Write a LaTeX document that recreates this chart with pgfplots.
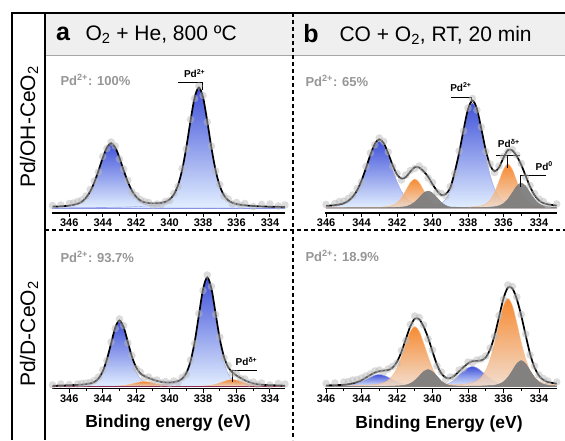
\documentclass[border=0pt]{standalone}
\usepackage{pgfplots}
\pgfplotsset{compat=1.18}
\usepackage{pgfplotstable}
\usepackage{fontspec}
\setmainfont{Liberation Sans}

\definecolor{blueT}{RGB}{38,58,212}
\definecolor{blueB}{RGB}{222,236,255}
\definecolor{orT}{RGB}{244,118,14}
\definecolor{orB}{RGB}{240,216,198}
\definecolor{grayP}{RGB}{125,125,125}
\definecolor{ptgray}{RGB}{185,185,185}
\definecolor{txtgray}{RGB}{150,150,150}
\definecolor{hdr}{RGB}{239,239,239}
\definecolor{maroon}{RGB}{140,45,85}

% Pd 3d, Pd/OH-CeO2, O2 + He 800 C (heights above baseline)
\pgfplotstableread{
x b1 b2 env dat
333.1 0.1 0.8 0.9 3.0
333.5 0.2 1.0 1.2 2.0
334.0 0.2 1.1 1.3 4.0
334.5 0.2 1.4 1.6 3.5
335.0 0.2 1.8 2.0 1.5
335.5 0.2 2.5 2.7 4.5
335.75 0.2 3.0 3.2 2.5
336.0 0.3 3.7 4.0 5.5
336.25 0.3 5.0 5.3 4.0
336.5 0.3 7.5 7.8 9.0
336.75 0.3 12.5 12.8 12.0
337.0 0.3 21.8 22.1 23.5
337.25 0.4 37.4 37.8 37.0
337.5 0.4 60.0 60.4 62.0
337.75 0.4 86.6 87.0 86.0
338.0 0.5 110.2 110.7 112.5
338.25 0.5 120.0 120.5 122.0
338.5 0.5 110.2 110.7 109.5
338.75 0.6 86.6 87.2 88.5
339.0 0.7 60.0 60.7 59.0
339.25 0.8 37.4 38.2 39.5
339.5 0.8 21.8 22.6 21.5
339.75 0.9 12.5 13.4 14.5
340.0 1.1 7.5 8.6 7.5
340.25 1.2 5.0 6.2 6.5
340.5 1.4 3.7 5.1 3.5
340.75 1.7 3.0 4.7 4.0
341.0 2.1 2.5 4.6 2.5
341.25 2.8 2.1 4.9 5.5
341.5 3.9 1.8 5.7 6.5
341.75 6.0 1.6 7.6 8.5
342.0 9.9 1.4 11.3 12.5
342.25 16.1 1.2 17.3 16.0
342.5 25.2 1.1 26.3 27.5
342.75 36.9 1.0 37.9 39.0
343.0 49.5 0.9 50.4 49.0
343.25 59.8 0.8 60.6 62.0
343.5 64.0 0.8 64.8 66.0
343.75 59.8 0.7 60.5 59.5
344.0 49.5 0.6 50.1 51.5
344.25 36.9 0.6 37.5 36.0
344.5 25.2 0.5 25.7 27.0
344.75 16.1 0.5 16.6 18.5
345.0 9.9 0.4 10.3 12.0
345.25 6.0 0.4 6.4 8.0
345.5 3.9 0.4 4.3 6.5
345.75 2.8 0.4 3.2 5.0
346.0 2.1 0.3 2.4 4.5
346.5 1.4 0.3 1.7 3.0
347.0 1.1 0.3 1.4 2.5
}\tabAT

% Pd/OH-CeO2, CO + O2 RT
\pgfplotstableread{
x b1 b2 o1 o2 g1 g2 env dat
333.0 0.2 0.8 0.6 0.1 0.6 0.1 2.4 4.0
333.5 0.2 1.0 0.9 0.1 1.3 0.1 3.6 2.5
333.75 0.2 1.1 1.1 0.1 2.3 0.1 4.9 6.5
334.0 0.2 1.2 1.5 0.1 4.5 0.1 7.6 9.0
334.25 0.2 1.4 2.2 0.1 8.9 0.1 12.9 14.5
334.5 0.2 1.6 4.0 0.1 15.3 0.1 21.3 22.5
334.75 0.2 1.9 8.0 0.1 21.9 0.1 32.2 31.0
335.0 0.2 2.2 15.6 0.1 25.0 0.1 43.2 44.5
335.25 0.3 2.6 26.8 0.1 21.9 0.1 51.8 53.0
335.5 0.3 3.3 38.5 0.1 15.3 0.1 57.6 58.5
335.75 0.3 4.4 44.0 0.2 8.9 0.1 57.9 56.5
336.0 0.3 6.6 38.5 0.2 4.5 0.1 50.2 51.5
336.25 0.3 10.9 26.8 0.2 2.3 0.1 40.6 42.0
336.5 0.4 19.1 15.6 0.2 1.3 0.1 36.7 35.5
336.75 0.4 32.8 8.0 0.2 0.9 0.2 42.5 44.0
337.0 0.4 52.5 4.0 0.2 0.6 0.2 57.9 56.5
337.25 0.4 75.8 2.2 0.2 0.5 0.2 79.3 81.0
337.5 0.5 96.4 1.5 0.3 0.4 0.2 99.3 98.0
337.75 0.5 105.0 1.1 0.3 0.3 0.3 107.5 109.5
338.0 0.6 96.4 0.9 0.3 0.3 0.3 98.8 100.0
338.25 0.6 75.8 0.7 0.4 0.3 0.4 78.2 77.0
338.5 0.7 52.5 0.6 0.5 0.2 0.6 55.1 57.0
338.75 0.8 32.8 0.5 0.6 0.2 0.9 35.8 34.5
339.0 0.9 17.0 0.5 0.6 0.2 1.0 20.2 21.5
339.25 1.0 9.0 0.4 0.9 0.2 2.5 14.0 12.0
339.5 1.1 4.5 0.3 1.4 0.2 5.5 13.0 14.5
339.75 1.3 2.8 0.3 2.4 0.1 10.4 17.3 16.0
340.0 1.5 2.0 0.3 5.0 0.1 14.9 23.8 25.5
340.25 1.8 1.8 0.3 10.3 0.1 17.0 31.3 30.0
340.5 2.2 1.6 0.2 17.7 0.1 14.9 36.7 38.5
340.75 2.9 1.5 0.2 25.4 0.1 10.4 40.5 42.0
341.0 4.1 1.4 0.2 29.0 0.1 6.0 40.8 39.5
341.25 6.3 1.3 0.2 25.4 0.1 3.1 36.4 37.5
341.5 10.3 1.2 0.2 17.7 0.1 1.5 31.0 33.0
341.75 16.8 1.1 0.2 10.3 0.1 0.9 29.4 28.0
342.0 26.4 1.0 0.2 5.2 0.1 0.6 33.5 34.5
342.25 38.7 0.9 0.2 2.6 0.1 0.4 42.9 41.5
342.5 51.9 0.8 0.1 1.5 0.1 0.3 54.7 56.0
342.75 62.6 0.7 0.1 1.0 0.1 0.3 64.8 66.5
343.0 67.0 0.6 0.1 0.7 0.1 0.2 68.7 70.0
343.25 62.6 0.6 0.1 0.6 0.1 0.2 64.2 63.0
343.5 51.9 0.5 0.1 0.5 0.1 0.2 53.3 55.0
343.75 38.7 0.5 0.1 0.4 0.1 0.2 40.0 41.5
344.0 26.4 0.5 0.1 0.3 0.1 0.1 27.5 26.0
344.25 16.8 0.4 0.1 0.3 0.1 0.1 17.8 19.5
344.5 10.3 0.4 0.1 0.3 0.1 0.1 11.3 13.0
344.75 6.3 0.4 0.1 0.2 0.1 0.1 7.2 9.5
345.0 4.1 0.3 0.1 0.2 0.0 0.1 4.8 7.0
345.25 2.9 0.3 0.1 0.2 0.0 0.1 3.6 6.5
345.5 2.2 0.3 0.1 0.2 0.0 0.1 2.9 4.5
346.0 1.5 0.3 0.1 0.1 0.0 0.1 2.1 3.5
}\tabBT

% Pd/D-CeO2, O2 + He 800 C
\pgfplotstableread{
x b1 b2 o1 o2 env dat
333.1 0.1 0.6 0.1 0.0 0.8 2.5
333.5 0.1 0.8 0.2 0.0 1.1 3.0
334.0 0.1 1.0 0.2 0.0 1.3 1.5
334.5 0.1 1.2 0.5 0.0 1.8 3.5
334.75 0.1 1.5 0.7 0.0 2.3 2.0
335.0 0.1 1.7 1.3 0.0 3.1 4.5
335.25 0.1 2.1 2.2 0.0 4.4 3.5
335.5 0.2 2.5 3.5 0.0 6.2 7.5
335.75 0.2 3.2 5.1 0.0 8.5 8.0
336.0 0.2 4.4 6.4 0.0 11.0 12.5
336.25 0.2 7.0 7.0 0.1 14.3 13.5
336.5 0.2 12.7 6.4 0.1 19.4 21.0
336.75 0.2 24.3 5.1 0.1 29.7 28.5
337.0 0.2 44.0 3.5 0.1 47.8 49.5
337.25 0.3 70.5 2.2 0.1 73.1 72.0
337.5 0.3 96.4 1.3 0.1 98.1 100.0
337.75 0.3 108.0 0.7 0.1 109.1 111.5
338.0 0.3 96.4 0.5 0.1 97.3 96.0
338.25 0.4 70.5 0.3 0.1 71.3 73.0
338.5 0.4 44.0 0.2 0.1 44.7 43.0
338.75 0.5 24.3 0.2 0.1 25.1 26.5
339.0 0.5 12.7 0.2 0.1 13.5 12.0
339.25 0.6 7.0 0.1 0.2 7.9 9.0
339.5 0.7 4.4 0.1 0.2 5.4 4.0
339.75 0.8 3.2 0.1 0.3 4.4 5.5
340.0 0.9 2.5 0.1 0.5 4.0 3.0
340.25 1.0 2.1 0.1 0.9 4.1 5.0
340.5 1.2 1.7 0.1 1.6 4.6 3.5
340.75 1.5 1.5 0.1 2.5 5.6 6.5
341.0 2.0 1.2 0.1 3.6 6.9 6.0
341.25 2.7 1.1 0.1 4.6 8.5 9.5
341.5 4.2 1.0 0.1 5.0 10.3 9.0
341.75 7.7 0.8 0.1 4.6 13.2 14.5
342.0 14.6 0.8 0.1 3.6 19.1 18.0
342.25 26.5 0.7 0.1 2.5 29.8 31.0
342.5 42.4 0.6 0.1 1.6 44.7 43.5
342.75 58.0 0.5 0.1 0.9 59.5 61.0
343.0 65.0 0.5 0.1 0.5 66.1 67.5
343.25 58.0 0.5 0.1 0.3 58.9 58.0
343.5 42.4 0.4 0.0 0.2 43.0 44.5
343.75 26.5 0.4 0.0 0.2 27.1 26.0
344.0 14.6 0.4 0.0 0.1 15.1 16.5
344.25 7.7 0.3 0.0 0.1 8.1 9.5
344.5 4.2 0.3 0.0 0.1 4.6 6.0
344.75 2.7 0.3 0.0 0.1 3.1 4.0
345.0 2.0 0.3 0.0 0.1 2.4 3.5
345.25 1.5 0.3 0.0 0.1 1.9 3.0
345.5 1.2 0.3 0.0 0.1 1.6 2.5
346.0 0.9 0.3 0.0 0.1 1.3 2.0
346.5 0.7 0.2 0.0 0.1 1.0 2.5
347.0 0.5 0.2 0.0 0.1 0.8 1.5
}\tabAB

% Pd/D-CeO2, CO + O2 RT
\pgfplotstableread{
x b1 b2 o1 o2 g1 g2 env dat
333.0 0.0 0.2 1.8 0.2 0.7 0.0 2.9 4.5
333.5 0.0 0.2 2.7 0.2 1.3 0.1 4.5 5.5
333.75 0.0 0.3 3.7 0.2 2.4 0.1 6.7 8.0
334.0 0.0 0.3 5.5 0.2 4.7 0.1 10.8 11.5
334.25 0.0 0.3 9.2 0.2 9.2 0.1 19.0 20.5
334.5 0.0 0.4 16.0 0.2 15.9 0.1 32.6 31.5
334.75 0.1 0.5 27.5 0.3 22.8 0.1 51.3 52.5
335.0 0.1 0.5 44.0 0.3 26.0 0.1 71.0 72.0
335.25 0.1 0.7 63.5 0.3 22.8 0.1 87.5 89.5
335.5 0.1 0.9 80.8 0.3 15.9 0.1 98.1 100.0
335.75 0.1 1.2 88.0 0.4 9.2 0.1 99.0 101.5
336.0 0.1 1.9 80.8 0.4 4.7 0.1 88.0 87.0
336.25 0.1 3.1 63.5 0.4 2.4 0.1 69.6 71.0
336.5 0.1 5.0 44.0 0.5 1.3 0.1 51.0 50.0
336.75 0.1 7.9 27.5 0.6 0.9 0.2 37.2 38.5
337.0 0.1 11.5 16.0 0.6 0.7 0.2 29.1 30.5
337.25 0.1 15.5 9.2 0.7 0.5 0.2 26.2 27.5
337.5 0.1 18.7 5.5 0.8 0.4 0.2 25.7 26.5
337.75 0.1 20.0 3.7 0.9 0.4 0.2 25.3 24.0
338.0 0.1 18.7 2.7 1.0 0.3 0.3 23.1 24.5
338.25 0.1 15.5 2.2 1.0 0.3 0.3 19.4 18.0
338.5 0.1 11.5 1.8 1.2 0.2 0.4 15.2 16.5
338.75 0.1 7.0 1.5 1.5 0.2 0.6 10.9 9.5
339.0 0.2 3.8 1.3 1.9 0.2 1.0 8.4 9.5
339.25 0.2 2.0 1.1 2.8 0.2 2.5 8.8 7.0
339.5 0.2 1.2 1.0 5.0 0.1 5.5 13.0 14.5
339.75 0.2 0.8 0.9 9.5 0.1 10.4 21.9 20.5
340.0 0.3 0.7 0.9 18.0 0.1 14.9 34.9 36.5
340.25 0.3 0.6 0.8 30.0 0.1 17.0 48.8 47.5
340.5 0.4 0.5 0.7 43.3 0.1 14.9 59.9 61.5
340.75 0.5 0.5 0.7 55.1 0.1 10.4 67.3 69.0
341.0 0.7 0.4 0.6 60.0 0.1 6.0 67.8 70.5
341.25 1.1 0.3 0.5 55.1 0.1 3.1 60.2 62.0
341.5 1.9 0.3 0.5 43.3 0.1 1.5 47.6 46.0
341.75 3.0 0.3 0.4 30.0 0.1 0.9 34.7 36.0
342.0 4.7 0.2 0.4 18.7 0.1 0.6 24.7 23.5
342.25 6.9 0.2 0.4 10.9 0.1 0.4 18.9 20.0
342.5 9.3 0.2 0.4 6.2 0.1 0.3 16.5 17.5
342.75 11.2 0.2 0.3 3.8 0.1 0.3 15.9 14.5
343.0 12.0 0.2 0.3 2.5 0.1 0.2 15.3 16.5
343.25 11.2 0.2 0.3 1.9 0.1 0.2 13.9 15.5
343.5 9.3 0.2 0.3 1.5 0.1 0.2 11.6 12.5
343.75 6.9 0.1 0.3 1.3 0.1 0.2 8.9 10.5
344.0 4.7 0.1 0.2 1.1 0.1 0.1 6.3 8.5
344.25 3.0 0.1 0.2 0.9 0.1 0.1 4.4 7.0
344.5 1.9 0.1 0.2 0.8 0.1 0.1 3.2 6.5
344.75 1.1 0.1 0.2 0.7 0.1 0.1 2.3 5.0
345.0 0.7 0.1 0.2 0.6 0.1 0.1 1.8 4.5
345.5 0.4 0.1 0.2 0.5 0.0 0.1 1.3 3.5
346.0 0.3 0.1 0.2 0.4 0.0 0.1 1.1 3.0
}\tabBB

\pgfplotsset{
  xps/.style={
    scale only axis, clip=false, anchor=south west,
    x dir=reverse,
    axis x line*=bottom, hide y axis,
    xtick={334,336,...,346}, minor x tick num=1,
    xtick pos=left,
    tick align=outside,
    major tick length=4pt, minor tick length=2.5pt,
    axis line style={line width=1.3pt},
    every tick/.style={black, line width=0.9pt},
    /pgf/number format/assume math mode=true,
    xticklabel style={font=\fontsize{11}{12}\selectfont\bfseries, inner sep=2pt},
  },
  pts/.style={only marks, mark=*, mark size=3.8pt, color=ptgray,
    mark options={solid, draw=ptgray, draw opacity=0, fill=ptgray, fill opacity=0.5}},
  cblue/.style={smooth, draw=blueT!45, line width=0.4pt,
    top color=blueT, bottom color=blueB, fill opacity=0.88},
  corange/.style={smooth, draw=orT!50, line width=0.4pt,
    top color=orT, bottom color=orB, fill opacity=0.85},
  cgray/.style={smooth, draw=grayP, line width=0.4pt, fill=grayP, fill opacity=0.95},
  envl/.style={smooth, black, line width=1.7pt},
}
\newcommand{\pdlab}[1]{\fontsize{10}{12}\selectfont\bfseries Pd\textsuperscript{#1}}
\newcommand{\pct}[1]{\fontsize{13}{15}\selectfont\bfseries\color{txtgray}Pd\textsuperscript{2+}: #1\%}

\begin{document}
\begin{tikzpicture}[x=1pt,y=1pt]
\useasboundingbox (0,0) rectangle (565,440);

% header band and frame
\fill[hdr] (45,427) rectangle (565,385);
\draw[gray!70, line width=0.6pt] (45,385) -- (565,385);
\draw[black, line width=2pt] (12,427) -- (565,427);
\draw[black, line width=2pt] (12,428) -- (12,0);
\draw[black, line width=2pt] (45,427) -- (45,0);
\draw[black, line width=1.2pt, dash pattern=on 4pt off 3pt] (293,427) -- (293,0);
\draw[black, line width=1.2pt, dash pattern=on 4pt off 3pt] (45,210) -- (565,210);

\node[anchor=center, font=\fontsize{25}{28}\selectfont\bfseries] at (63,406) {a};
\node[anchor=west, font=\fontsize{21}{24}\selectfont] at (82,405) {O\textsubscript{2} + He, 800 ºC};
\node[anchor=center, font=\fontsize{25}{28}\selectfont\bfseries] at (311,406) {b};
\node[anchor=west, font=\fontsize{21}{24}\selectfont] at (336,405) {CO + O\textsubscript{2}, RT, 20 min};

\node[rotate=90, font=\fontsize{21}{24}\selectfont] at (29,313) {Pd/OH-CeO\textsubscript{2}};
\node[rotate=90, font=\fontsize{21}{24}\selectfont] at (29,106) {Pd/D-CeO\textsubscript{2}};

\node[anchor=west] at (57,360) {\pct{100}};
\node[anchor=west] at (302,359) {\pct{65}};
\node[anchor=west] at (57,183) {\pct{93.7}};
\node[anchor=west] at (302,184) {\pct{18.9}};

\node[font=\fontsize{17.5}{20}\selectfont\bfseries] at (168,17) {Binding energy (eV)};
\node[font=\fontsize{17.5}{20}\selectfont\bfseries] at (439,16) {Binding Energy (eV)};

% a, top
\begin{axis}[xps, at={(51.7pt,227pt)}, width=233.3pt, height=155pt,
  xmin=333.1, xmax=347.05, ymin=-5, ymax=150]
\addplot[pts] table[x=x,y=dat]{\tabAT};
\addplot[cblue] table[x=x,y=b1]{\tabAT} \closedcycle;
\addplot[cblue] table[x=x,y=b2]{\tabAT} \closedcycle;
\addplot[blueT!55, line width=0.8pt] coordinates {(333.1,0) (347.05,0)};
\addplot[envl] table[x=x,y=env]{\tabAT};
\draw[line width=0.9pt] (axis cs:339.5,125.3) -- (axis cs:338.06,125.3) -- (axis cs:338.06,118);
\node at (axis cs:338.5,134.5) {\pdlab{2+}};
\end{axis}

% b, top
\begin{axis}[xps, at={(325pt,227pt)}, width=231.7pt, height=155pt,
  xmin=333.0, xmax=346.06, ymin=-5, ymax=150]
\addplot[pts] table[x=x,y=dat]{\tabBT};
\addplot[cblue] table[x=x,y=b1]{\tabBT} \closedcycle;
\addplot[cblue] table[x=x,y=b2]{\tabBT} \closedcycle;
\addplot[corange] table[x=x,y=o2]{\tabBT} \closedcycle;
\addplot[corange] table[x=x,y=o1]{\tabBT} \closedcycle;
\addplot[cgray] table[x=x,y=g2]{\tabBT} \closedcycle;
\addplot[cgray] table[x=x,y=g1]{\tabBT} \closedcycle;
\addplot[envl] table[x=x,y=env]{\tabBT};
\draw[line width=0.9pt] (axis cs:338.93,110.3) -- (axis cs:337.81,110.3) -- (axis cs:337.81,105);
\node at (axis cs:338.4,121) {\pdlab{2+}};
\draw[line width=0.9pt] (axis cs:336.4,53) -- (axis cs:335.09,53);
\draw[line width=0.9pt] (axis cs:335.75,53) -- (axis cs:335.75,39.7);
\node at (axis cs:335.7,64.5) {\pdlab{δ+}};
\draw[line width=0.9pt] (axis cs:335.04,21.3) -- (axis cs:335.04,33) -- (axis cs:333.59,33);
\node at (axis cs:333.7,42) {\pdlab{0}};
\end{axis}

% a, bottom
\begin{axis}[xps, at={(51.7pt,51.5pt)}, width=233.3pt, height=148.5pt,
  xmin=333.1, xmax=347.05, ymin=-2, ymax=146.5]
\addplot[pts] table[x=x,y=dat]{\tabAB};
\addplot[cblue] table[x=x,y=b1]{\tabAB} \closedcycle;
\addplot[cblue] table[x=x,y=b2]{\tabAB} \closedcycle;
\addplot[corange] table[x=x,y=o2]{\tabAB} \closedcycle;
\addplot[corange] table[x=x,y=o1]{\tabAB} \closedcycle;
\addplot[maroon, line width=0.9pt] coordinates {(333.1,0) (347.05,0)};
\addplot[envl] table[x=x,y=env]{\tabAB};
\draw[line width=0.9pt] (axis cs:336.25,4.6) -- (axis cs:336.25,15.6) -- (axis cs:334.75,15.6);
\node at (axis cs:335.4,25) {\pdlab{δ+}};
\end{axis}

% b, bottom
\begin{axis}[xps, at={(325pt,51.5pt)}, width=231.7pt, height=148.5pt,
  xmin=333.0, xmax=346.06, ymin=-2, ymax=146.5]
\addplot[pts] table[x=x,y=dat]{\tabBB};
\addplot[cblue] table[x=x,y=b1]{\tabBB} \closedcycle;
\addplot[cblue] table[x=x,y=b2]{\tabBB} \closedcycle;
\addplot[corange] table[x=x,y=o2]{\tabBB} \closedcycle;
\addplot[corange] table[x=x,y=o1]{\tabBB} \closedcycle;
\addplot[cgray] table[x=x,y=g2]{\tabBB} \closedcycle;
\addplot[cgray] table[x=x,y=g1]{\tabBB} \closedcycle;
\addplot[envl] table[x=x,y=env]{\tabBB};
\end{axis}
\end{tikzpicture}
\end{document}
